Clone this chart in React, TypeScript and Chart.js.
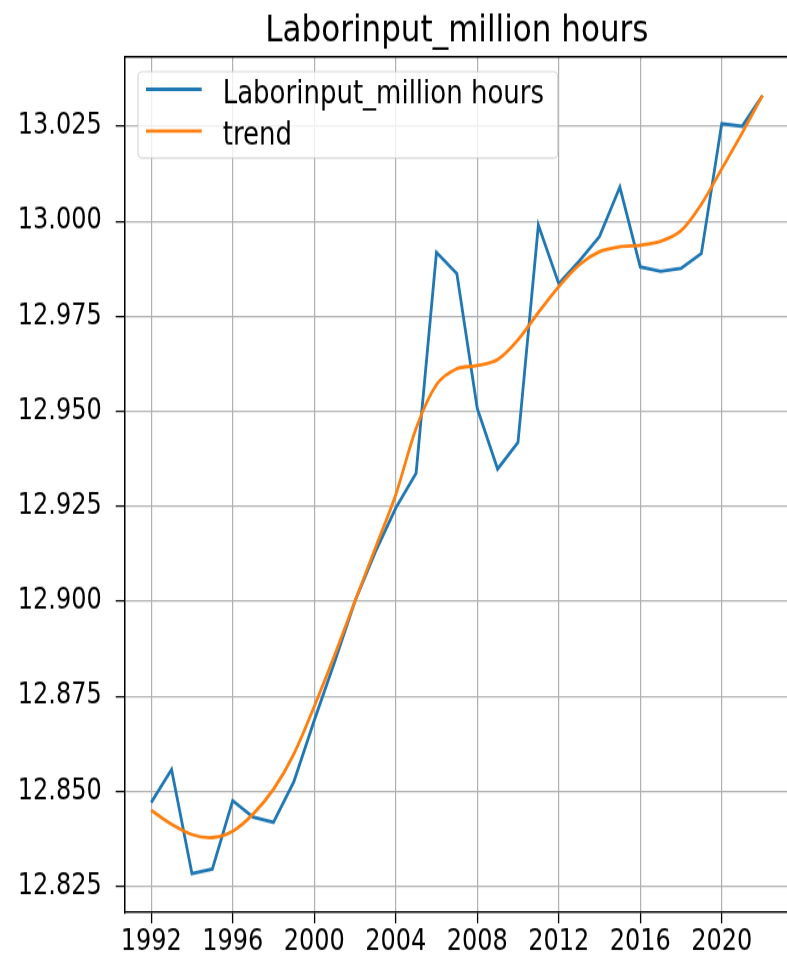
import React, { useEffect, useRef } from "react";
import { Chart, registerables } from "chart.js";

Chart.register(...registerables);

// ---------- data ----------
const YEARS = [
  1992, 1993, 1994, 1995, 1996, 1997, 1998, 1999, 2000, 2001, 2002,
  2003, 2004, 2005, 2006, 2007, 2008, 2009, 2010, 2011, 2012, 2013,
  2014, 2015, 2016, 2017, 2018, 2019, 2020, 2021, 2022,
];
const LABOR_INPUT = [
  12.847, 12.8557, 12.8283, 12.8295, 12.8475, 12.8432, 12.8418, 12.8525,
  12.8686, 12.884, 12.9, 12.913, 12.9245, 12.9337, 12.9918, 12.9862,
  12.9508, 12.9348, 12.9418, 12.999, 12.9836, 12.9895, 12.996, 13.009,
  12.988, 12.9868, 12.9876, 12.9915, 13.0257, 13.025, 13.0331,
];
const TREND = [
  12.845, 12.8413, 12.8386, 12.8378, 12.8395, 12.844, 12.8505, 12.8598,
  12.8723, 12.8858, 12.9, 12.914, 12.928, 12.9455, 12.957, 12.9612,
  12.962, 12.9636, 12.9688, 12.976, 12.9828, 12.9885, 12.992, 12.9933,
  12.9937, 12.9947, 12.9975, 13.0045, 13.0138, 13.0232, 13.0331,
];
const X_TICKS = [1992, 1996, 2000, 2004, 2008, 2012, 2016, 2020];
const Y_TICKS = [
  12.825, 12.85, 12.875, 12.9, 12.925, 12.95, 12.975, 13.0, 13.025,
];
const TITLE = "Laborinput_million hours";
const SERIES_NAMES = ["Laborinput_million hours", "trend"];
const SERIES_COLORS = ["#1f77b4", "#ff7f0e"];

// ---------- layout ----------
const CANVAS_W = 800;
const CANVAS_H = 787;
const VIEW_W = 787;
const VIEW_H = 956;
const STRETCH = VIEW_H / CANVAS_H;
const FONT = "'DejaVu Sans', sans-serif";
const AREA_LEFT = 124.7;
const AREA_TOP = 46.7;
const AREA_BOTTOM = 751.1;
const AREA_RIGHT = 789;
const LINE_W = 2.8;

const decorPlugin = {
  id: "decor",
  afterDraw(chart: any) {
    const { ctx, chartArea: a } = chart;
    ctx.save();
    // top spine
    ctx.strokeStyle = "#000";
    ctx.lineWidth = 1.5;
    ctx.beginPath();
    ctx.moveTo(a.left - 0.75, a.top);
    ctx.lineTo(a.right, a.top);
    ctx.stroke();

    // title
    ctx.fillStyle = "#000";
    ctx.font = `31px ${FONT}`;
    ctx.textAlign = "center";
    ctx.textBaseline = "alphabetic";
    ctx.fillText(TITLE, (a.left + a.right) / 2, 34.3);

    // legend box
    const bx = 138;
    const by = 59;
    const bw = 419.7;
    const bh = 71.1;
    ctx.beginPath();
    (ctx as any).roundRect(bx, by, bw, bh, 4);
    ctx.fillStyle = "rgba(255,255,255,0.8)";
    ctx.fill();
    ctx.strokeStyle = "rgba(204,204,204,0.8)";
    ctx.lineWidth = 1.2;
    ctx.stroke();

    const rows = [73.5, 107.8];
    ctx.font = `26px ${FONT}`;
    ctx.textAlign = "left";
    SERIES_NAMES.forEach((name, i) => {
      ctx.strokeStyle = SERIES_COLORS[i];
      ctx.lineWidth = LINE_W;
      ctx.beginPath();
      ctx.moveTo(146, rows[i]);
      ctx.lineTo(201.7, rows[i]);
      ctx.stroke();
      ctx.fillStyle = "#000";
      ctx.fillText(name, 222.7, rows[i] + 11.5);
    });
    ctx.restore();
  },
};

export default function App() {
  const canvasRef = useRef<HTMLCanvasElement | null>(null);

  useEffect(() => {
    const canvas = canvasRef.current;
    if (!canvas) return;
    const mk = (vals: number[]) => YEARS.map((x, i) => ({ x, y: vals[i] }));
    const chart = new Chart(canvas, {
      type: "line",
      data: {
        datasets: [
          {
            label: SERIES_NAMES[0],
            data: mk(LABOR_INPUT),
            borderColor: SERIES_COLORS[0],
            backgroundColor: SERIES_COLORS[0],
            borderWidth: LINE_W,
            pointRadius: 0,
            tension: 0,
            order: 1,
          },
          {
            label: SERIES_NAMES[1],
            data: mk(TREND),
            borderColor: SERIES_COLORS[1],
            backgroundColor: SERIES_COLORS[1],
            borderWidth: LINE_W,
            pointRadius: 0,
            tension: 0.3,
            order: 0,
          },
        ],
      },
      options: {
        animation: false,
        responsive: false,
        maintainAspectRatio: false,
        devicePixelRatio: 1,
        layout: {
          padding: {
            left: 0,
            top: AREA_TOP,
            right: CANVAS_W - AREA_RIGHT,
            bottom: 0,
          },
        },
        plugins: {
          legend: { display: false },
          title: { display: false },
          tooltip: { enabled: false },
        },
        scales: {
          x: {
            type: "linear",
            min: 1990.7,
            max: 2023.3,
            afterBuildTicks: (scale: any) => {
              scale.ticks = X_TICKS.map((v) => ({ value: v }));
            },
            afterFit: (scale: any) => {
              scale.height = CANVAS_H - AREA_BOTTOM;
            },
            ticks: {
              autoSkip: false,
              maxRotation: 0,
              padding: 1,
              color: "#000",
              font: { family: FONT, size: 24 },
              callback: (v: any) => String(v),
            },
            grid: {
              color: "#b0b0b0",
              lineWidth: 1.2,
              tickColor: "#000",
              tickLength: 9,
              tickWidth: 1.3,
            },
            border: { display: true, color: "#000", width: 1.5 },
          },
          y: {
            type: "linear",
            min: 12.8181,
            max: 13.0433,
            afterBuildTicks: (scale: any) => {
              scale.ticks = Y_TICKS.map((v) => ({ value: v }));
            },
            afterFit: (scale: any) => {
              scale.width = AREA_LEFT;
            },
            ticks: {
              autoSkip: false,
              padding: 14,
              color: "#000",
              font: { family: FONT, size: 24 },
              callback: (v: any) => Number(v).toFixed(3),
            },
            grid: {
              color: "#b0b0b0",
              lineWidth: 1.2,
              tickColor: "#000",
              tickLength: 9,
              tickWidth: 1.3,
            },
            border: { display: true, color: "#000", width: 1.5 },
          },
        },
      },
      plugins: [decorPlugin],
    });
    return () => chart.destroy();
  }, []);

  return (
    <div
      style={{
        position: "fixed",
        top: 0,
        left: 0,
        width: VIEW_W,
        height: VIEW_H,
        overflow: "hidden",
        background: "#fff",
      }}
    >
      <div
        style={{
          width: CANVAS_W,
          height: CANVAS_H,
          transform: `scaleY(${STRETCH})`,
          transformOrigin: "0 0",
        }}
      >
        <canvas
          ref={canvasRef}
          width={CANVAS_W}
          height={CANVAS_H}
          style={{ display: "block" }}
        />
      </div>
    </div>
  );
}
